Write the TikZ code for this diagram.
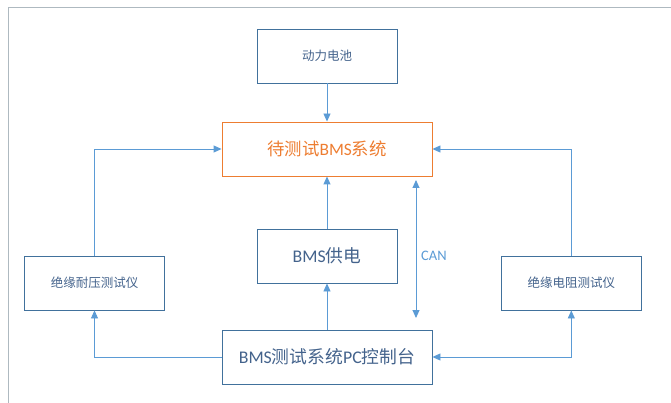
\documentclass[tikz,border=0pt]{standalone}
\usepackage{fontspec}
\setmainfont{Carlito}
\newfontfamily\cjk{Noto Sans CJK SC}
\usetikzlibrary{arrows.meta}
\definecolor{linkblue}{HTML}{5B9BD5}
\definecolor{boxblue}{HTML}{41719C}
\definecolor{txtblue}{HTML}{44638C}
\definecolor{dutorange}{HTML}{ED7D31}
\definecolor{framegray}{HTML}{AEB9C0}
\tikzset{
  box/.style={draw=boxblue,line width=.9pt,minimum width=140pt,minimum height=54pt,
    text=txtblue,font=\fontsize{12.5}{14}\selectfont},
  widebox/.style={box,minimum width=210pt,font=\fontsize{17.8}{20}\selectfont},
  link/.style={draw=linkblue,line width=.9pt}
}
\begin{document}
\begin{tikzpicture}[x=1pt,y=-1pt,>={Triangle[length=8pt,width=7pt]}]
  \useasboundingbox (0,0) rectangle (671,403);
  \draw[framegray,line width=1.5pt] (8.7,403) -- (8.7,7.3) -- (671,7.3);
  % boxes
  \node[box] (bat) at (327,56) {\cjk 动力电池};
  \node[widebox,draw=dutorange,text=dutorange,font=\fontsize{17.4}{19}\selectfont] (dut) at (327,149) {{\cjk 待测试}BMS{\cjk 系统}};
  \node[box,font=\fontsize{17.8}{20}\selectfont] (pwr) at (327,256) {BMS{\cjk 供电}};
  \node[box] (hipot) at (94.5,283) {\cjk 绝缘耐压测试仪};
  \node[box] (ir) at (571.3,283) {\cjk 绝缘电阻测试仪};
  \node[widebox] (pc) at (327,357) {BMS{\cjk 测试系统}PC{\cjk 控制台}};
  % connectors
  \draw[link,->] (bat) -- (dut);
  \draw[link,->] (pwr) -- (dut);
  \draw[link,->] (pc) -- (pwr);
  \draw[link,->] (hipot.north) |- (dut.west);
  \draw[link,->] (ir.north) |- (dut.east);
  \draw[link,->] (pc.west) -| (hipot.south);
  \draw[link,<->] (pc.east) -| (ir.south);
  % CAN bus
  \coordinate (cantop) at (416,180);
  \coordinate (canbot) at (416,318);
  \draw[link,<->] (cantop) -- (canbot);
  \node[anchor=west,inner sep=0pt,text=linkblue,font=\fontsize{14.5}{16}\selectfont] (can) at (421,256) {CAN};
\end{tikzpicture}
\end{document}
